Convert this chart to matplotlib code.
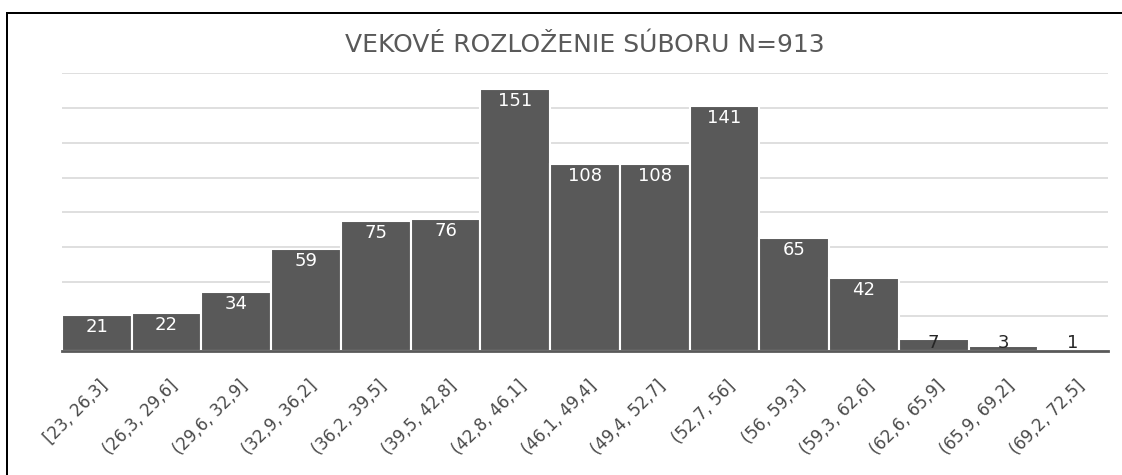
import matplotlib
matplotlib.use("Agg")
import matplotlib.pyplot as plt
from matplotlib.lines import Line2D

categories = ["[23, 26,3]", "(26,3, 29,6]", "(29,6, 32,9]", "(32,9, 36,2]", "(36,2, 39,5]",
              "(39,5, 42,8]", "(42,8, 46,1]", "(46,1, 49,4]", "(49,4, 52,7]", "(52,7, 56]",
              "(56, 59,3]", "(59,3, 62,6]", "(62,6, 65,9]", "(65,9, 69,2]", "(69,2, 72,5]"]
counts = [21, 22, 34, 59, 75, 76, 151, 108, 108, 141, 65, 42, 7, 3, 1]
title = "VEKOVÉ ROZLOŽENIE SÚBORU N=913"

W, H = 1122, 475
fig = plt.figure(figsize=(W / 100, H / 100), dpi=100)
fig.patch.set_facecolor("white")

left_px, right_px, base_px, top_px = 62, 1108, 351, 73.5
ax = fig.add_axes([left_px / W, (H - base_px) / H, (right_px - left_px) / W, (base_px - top_px) / H])

bar_color = "#595959"
x = list(range(len(categories)))
ax.bar(x, counts, width=1.0, color=bar_color, edgecolor="white", linewidth=1.5, zorder=3)
ax.set_xlim(-0.5, len(categories) - 0.5)
ax.set_ylim(0, 160)
ax.set_yticks(range(20, 161, 20))
ax.yaxis.grid(True, color="#d9d9d9", linewidth=1.2, zorder=0)
ax.tick_params(axis="y", left=False, labelleft=False)
ax.tick_params(axis="x", bottom=False, length=0, pad=4)
for s in ["left", "right", "top"]:
    ax.spines[s].set_visible(False)
ax.spines["bottom"].set_color(bar_color)
ax.spines["bottom"].set_linewidth(2)
ax.spines["bottom"].set_zorder(4)

ax.set_xticks(x)
ax.set_xticklabels(categories, rotation=45, ha="right", va="top", rotation_mode="anchor",
                   fontsize=12, color="#4a4a4a", family="DejaVu Sans")
for lab in ax.get_xticklabels():
    lab.set_transform(lab.get_transform() + matplotlib.transforms.ScaledTranslation(2 / 100, -20 / 100, fig.dpi_scale_trans))

for xi, v in zip(x, counts):
    if v >= 15:
        ax.annotate(str(v), (xi, v), xytext=(0, -12 * 0.72), textcoords="offset points",
                    ha="center", va="center", color="white", fontsize=13, zorder=5)
    else:
        ax.annotate(str(v), (xi, 0), xytext=(0, 8 * 0.72), textcoords="offset points",
                    ha="center", va="center", color="#262626", fontsize=13, zorder=5)

fig.text(585 / W, 1 - 45 / H, title, ha="center", va="center", fontsize=18, color=bar_color)

# outer frame (top and left)
lw = 2 * 0.72
fig.add_artist(Line2D([7 / W, 1], [1 - 13 / H, 1 - 13 / H], color="black", linewidth=lw, transform=fig.transFigure))
fig.add_artist(Line2D([7 / W, 7 / W], [0, 1 - 13 / H], color="black", linewidth=lw, transform=fig.transFigure))

fig.savefig("out.png", dpi=100)
